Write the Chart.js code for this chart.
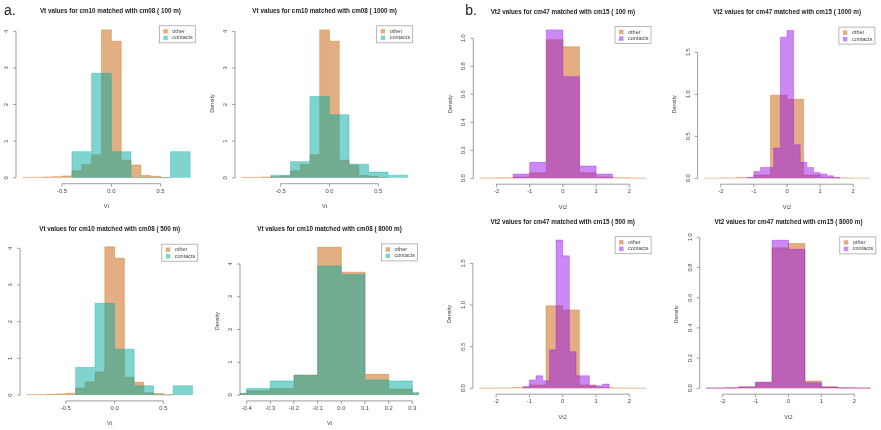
<!DOCTYPE html>
<html>
<head>
<meta charset="utf-8">
<script src="https://cdn.jsdelivr.net/npm/chart.js@4.4.1/dist/chart.umd.min.js"></script>
<style>
  body { margin: 0; background: #fff; }
  #wrap { position: relative; width: 881px; height: 430px; overflow: hidden; }
  #wrap canvas { position: absolute; left: 0; top: 0; }
</style>
</head>
<body>
<div id="wrap"></div>
<script>
// ---- data (densities) ----
// a. Vt, cm10 vs cm08
const vtBreaks = [-0.9, -0.8, -0.7, -0.6, -0.5, -0.4, -0.3, -0.2, -0.1, 0.0, 0.1, 0.2, 0.3, 0.4, 0.5, 0.6];
const vtOther = [0.01, 0.01, 0.02, 0.03, 0.05, 0.19, 0.36, 0.63, 4.04, 3.73, 0.48, 0.35, 0.06, 0.04, 0.01];
const vtContactBreaks = [-0.4, -0.2, 0.0, 0.2, 0.4, 0.6, 0.8];
const vtContacts100 = [0.714, 2.857, 0.714, 0, 0, 0.714];
const vtContacts500 = [0.75, 2.5, 1.25, 0.25, 0, 0.25];
const vtContactBreaks1000 = [-0.6, -0.4, -0.2, 0.0, 0.2, 0.4, 0.6, 0.8];
const vtContacts1000 = [0.07, 0.44, 2.22, 1.72, 0.37, 0.155, 0.07];
const vtBreaks8000 = [-0.5, -0.4, -0.3, -0.2, -0.1, 0.0, 0.1, 0.2, 0.3, 0.4];
const vtOther8000 = [0.04, 0.13, 0.2, 0.61, 4.51, 3.75, 0.63, 0.18, 0.04];
const vtContacts8000 = [0.05, 0.2, 0.43, 0.6, 3.94, 3.68, 0.46, 0.43, 0.08];

// b. Vt2, cm47 vs cm15
const vt2Breaks = [-2.5, -2, -1.5, -1, -0.5, 0, 0.5, 1, 1.5, 2, 2.5];
const vt2Other = [0.002, 0.004, 0.01, 0.04, 0.99, 0.94, 0.04, 0.01, 0.004, 0.002];
const vt2ContactBreaks100 = [-1.5, -1, -0.5, 0, 0.5, 1, 1.5];
const vt2Contacts100 = [0.03, 0.114, 1.06, 0.726, 0.088, 0.03];
const vt2ContactBreaks1000 = [-1.2, -1.0, -0.8, -0.6, -0.4, -0.2, 0.0, 0.2, 0.4, 0.6, 0.8, 1.0, 1.2, 1.4, 1.6];
const vt2Contacts1000 = [0.01, 0.08, 0.13, 0.13, 0.36, 1.68, 1.76, 0.40, 0.19, 0.13, 0.07, 0.05, 0.03, 0.01];
const vt2ContactBreaks500 = [-1.2, -1.0, -0.8, -0.6, -0.4, -0.2, 0.0, 0.2, 0.4, 0.6, 0.8, 1.0, 1.2, 1.4];
const vt2Contacts500 = [0.02, 0.1, 0.15, 0.09, 0.46, 1.78, 1.59, 0.44, 0.15, 0.15, 0.03, 0.03, 0.05];
const vt2Other8000 = [0.002, 0.003, 0.01, 0.04, 0.93, 0.958, 0.048, 0.01, 0.003, 0.002];
const vt2Contacts8000 = [0.002, 0.003, 0.009, 0.04, 0.98, 0.92, 0.037, 0.008, 0.003, 0.002];

// tick labels
const vtTicks = [-0.5, 0, 0.5];
const vtTicks8000 = [-0.4, -0.3, -0.2, -0.1, 0, 0.1, 0.2, 0.3];
const vt2Ticks = [-2, -1, 0, 1, 2];
const densTicksA = [0, 1, 2, 3, 4];
const densTicksFine = [0, 0.2, 0.4, 0.6, 0.8, 1.0];
const densTicksHalf = [0, 0.5, 1.0, 1.5];
const legendLabels = ['other', 'contacts'];

// ---- styles ----
const W = 881, H = 430;
const FONT = '"Liberation Sans", Arial, sans-serif';
const ORANGE = 'rgba(200,95,5,0.5)';
const TEAL = 'rgba(0,170,162,0.5)';
const PURPLE = 'rgba(150,20,235,0.5)';

// area = [left, top, right, bottom] of the plot region in page pixels
const panels = [
  { title: 'Vt values for cm10 matched with cm08 ( 100 m)', tag: 'a.', xLabel: 'Vt', titleDx: 4,
    area: [16, 23.3, 196.8, 183.7], x: [-0.968, 0.868], y: [-0.162, 4.22],
    other: [vtBreaks, vtOther], contacts: [vtContactBreaks, vtContacts100], color: TEAL,
    xTicks: vtTicks, xDec: 1, yTicks: densTicksA, yDec: 0 },
  { title: 'Vt values for cm10 matched with cm08 ( 1000 m)', xLabel: 'Vt', titleDx: 0,
    area: [235, 23.3, 414.2, 183.7], x: [-0.968, 0.868], y: [-0.162, 4.22],
    other: [vtBreaks, vtOther], contacts: [vtContactBreaks1000, vtContacts1000], color: TEAL,
    xTicks: vtTicks, xDec: 1, yTicks: densTicksA, yDec: 0 },
  { title: 'Vt values for cm10 matched with cm08 ( 500 m)', xLabel: 'Vt', titleDx: 0,
    area: [20.1, 241.7, 199.3, 400.9], x: [-0.968, 0.868], y: [-0.16, 4.18],
    other: [vtBreaks, vtOther], contacts: [vtContactBreaks, vtContacts500], color: TEAL,
    xTicks: vtTicks, xDec: 1, yTicks: densTicksA, yDec: 0 },
  { title: 'Vt values for cm10 matched with cm08 ( 8000 m)', xLabel: 'Vt', titleDx: 0,
    area: [240, 241.4, 419, 400.9], x: [-0.428, 0.328], y: [-0.18, 4.69],
    other: [vtBreaks8000, vtOther8000], contacts: [vtBreaks8000, vtContacts8000], color: TEAL,
    xTicks: vtTicks8000, xDec: 1, yTicks: densTicksA, yDec: 0 },
  { title: 'Vt2 values for cm47 matched with cm15 ( 100 m)', tag: 'b.', xLabel: 'Vt2', titleDx: 0,
    area: [473.3, 24, 652.5, 184.2], x: [-2.7, 2.7], y: [-0.042, 1.102],
    other: [vt2Breaks, vt2Other], contacts: [vt2ContactBreaks100, vt2Contacts100], color: PURPLE,
    xTicks: vt2Ticks, xDec: 0, yTicks: densTicksFine, yDec: 1 },
  { title: 'Vt2 values for cm47 matched with cm15 ( 1000 m)', xLabel: 'Vt2', titleDx: 0,
    area: [697.6, 24.6, 876.4, 184.2], x: [-2.7, 2.7], y: [-0.07, 1.83],
    other: [vt2Breaks, vt2Other], contacts: [vt2ContactBreaks1000, vt2Contacts1000], color: PURPLE,
    xTicks: vt2Ticks, xDec: 0, yTicks: densTicksHalf, yDec: 1 },
  { title: 'Vt2 values for cm47 matched with cm15 ( 500 m)', xLabel: 'Vt2', titleDx: 0,
    area: [472.8, 234.2, 652.6, 394.2], x: [-2.7, 2.7], y: [-0.071, 1.85],
    other: [vt2Breaks, vt2Other], contacts: [vt2ContactBreaks500, vt2Contacts500], color: PURPLE,
    xTicks: vt2Ticks, xDec: 0, yTicks: densTicksHalf, yDec: 1 },
  { title: 'Vt2 values for cm47 matched with cm15 ( 8000 m)', xLabel: 'Vt2', titleDx: 0,
    area: [699.7, 234.4, 877.3, 394.2], x: [-2.7, 2.7], y: [-0.039, 1.019],
    other: [vt2Breaks, vt2Other8000], contacts: [vt2Breaks, vt2Contacts8000], color: PURPLE,
    xTicks: vt2Ticks, xDec: 0, yTicks: densTicksFine, yDec: 1 }
];

// histogram outline as step points: value at a left edge holds until the next edge
function histPoints(breaks, dens) {
  const pts = [{ x: breaks[0], y: 0 }];
  dens.forEach((d, i) => pts.push({ x: breaks[i], y: d }));
  pts.push({ x: breaks[breaks.length - 1], y: 0 });
  return pts;
}

// R style axes, titles and legend box
function rDecor(p) {
  return {
    id: 'rDecor',
    afterDraw(chart) {
      const ctx = chart.ctx, a = chart.chartArea;
      const xs = chart.scales.x, ys = chart.scales.y;
      const cx = (a.left + a.right) / 2, cy = (a.top + a.bottom) / 2;
      ctx.save();

      if (p.tag) {
        ctx.fillStyle = '#222';
        ctx.font = '14px ' + FONT;
        ctx.textAlign = 'left';
        ctx.textBaseline = 'alphabetic';
        ctx.fillText(p.tag, a.left - (p.tag === 'a.' ? 12 : 8), 15);
      }

      ctx.fillStyle = '#1c1c1c';
      ctx.font = 'bold 6.3px ' + FONT;
      ctx.textAlign = 'center';
      ctx.textBaseline = 'middle';
      ctx.fillText(p.title, cx + p.titleDx, a.top - 12);

      ctx.strokeStyle = '#777';
      ctx.lineWidth = 0.7;
      ctx.fillStyle = '#444';
      ctx.font = '5.8px ' + FONT;

      // x axis
      const xp = p.xTicks.map(v => xs.getPixelForValue(v));
      ctx.beginPath();
      ctx.moveTo(xp[0], a.bottom);
      ctx.lineTo(xp[xp.length - 1], a.bottom);
      xp.forEach(px => { ctx.moveTo(px, a.bottom); ctx.lineTo(px, a.bottom + 3); });
      ctx.stroke();
      p.xTicks.forEach((v, i) => ctx.fillText(v.toFixed(p.xDec), xp[i], a.bottom + 7.5));

      // y axis
      const yp = p.yTicks.map(v => ys.getPixelForValue(v));
      ctx.beginPath();
      ctx.moveTo(a.left, yp[0]);
      ctx.lineTo(a.left, yp[yp.length - 1]);
      yp.forEach(py => { ctx.moveTo(a.left, py); ctx.lineTo(a.left - 3, py); });
      ctx.stroke();
      p.yTicks.forEach((v, i) => {
        ctx.save();
        ctx.translate(a.left - 9.5, yp[i]);
        ctx.rotate(-Math.PI / 2);
        ctx.fillText(v.toFixed(p.yDec), 0, 0);
        ctx.restore();
      });

      // axis titles
      ctx.font = '5.5px ' + FONT;
      ctx.fillText(p.xLabel, cx, a.bottom + 23);
      ctx.save();
      ctx.translate(a.left - 23, cy);
      ctx.rotate(-Math.PI / 2);
      ctx.fillText('Density', 0, 0);
      ctx.restore();

      // legend
      const bw = 36, bh = 17;
      const bx = a.right - 1.5 - bw, by = a.top + 2.5;
      ctx.fillStyle = '#fff';
      ctx.fillRect(bx, by, bw, bh);
      ctx.strokeStyle = '#999';
      ctx.strokeRect(bx, by, bw, bh);
      ctx.textAlign = 'left';
      [ORANGE, p.color].forEach((c, i) => {
        const ry = by + 5.5 + i * 6.5;
        ctx.fillStyle = c;
        ctx.fillRect(bx + 4, ry - 2.2, 4.5, 4.5);
        ctx.fillStyle = '#444';
        ctx.fillText(legendLabels[i], bx + 13, ry);
      });
      ctx.restore();
    }
  };
}

const wrap = document.getElementById('wrap');
panels.forEach(p => {
  const canvas = document.createElement('canvas');
  canvas.width = W;
  canvas.height = H;
  wrap.appendChild(canvas);
  new Chart(canvas, {
    type: 'line',
    data: {
      datasets: [
        { label: legendLabels[0], data: histPoints(p.other[0], p.other[1]),
          backgroundColor: ORANGE, borderColor: ORANGE, fill: 'origin', order: 1 },
        { label: legendLabels[1], data: histPoints(p.contacts[0], p.contacts[1]),
          backgroundColor: p.color, borderColor: p.color, fill: 'origin', order: 0 }
      ]
    },
    options: {
      responsive: false,
      animation: false,
      events: [],
      layout: { padding: { left: p.area[0], top: p.area[1], right: W - p.area[2], bottom: H - p.area[3] } },
      elements: {
        line: { stepped: 'before', borderWidth: 0.7, tension: 0 },
        point: { radius: 0, hoverRadius: 0 }
      },
      scales: {
        x: { type: 'linear', display: false, min: p.x[0], max: p.x[1] },
        y: { type: 'linear', display: false, min: p.y[0], max: p.y[1] }
      },
      plugins: { legend: { display: false }, tooltip: { enabled: false }, title: { display: false } }
    },
    plugins: [rDecor(p)]
  });
});
</script>
</body>
</html>
